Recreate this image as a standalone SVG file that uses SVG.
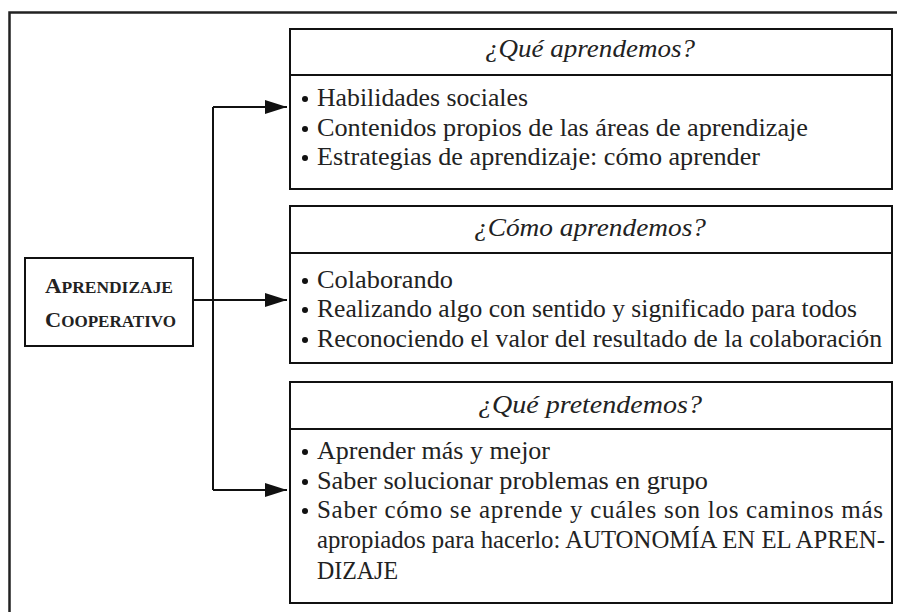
<svg xmlns="http://www.w3.org/2000/svg" width="897" height="612" viewBox="0 0 897 612">
<style>
.box{fill:#fff;stroke:#111;stroke-width:2}
.ln{fill:none;stroke:#111;stroke-width:2}
.hd{font-family:'Liberation Serif','Times New Roman',Times,serif;font-style:italic;font-size:25px;fill:#222;text-anchor:middle}
.tx{font-family:'Liberation Serif','Times New Roman',Times,serif;font-size:25px;fill:#222}
.sc{font-family:'Liberation Serif','Times New Roman',Times,serif;font-weight:bold;fill:#222}
.bul{fill:#111}
</style>
<defs>
<marker id="arr" markerWidth="22" markerHeight="14" refX="22" refY="7" orient="auto" markerUnits="userSpaceOnUse">
<path d="M0,0 L22,7 L0,14 Z" fill="#111"/>
</marker>
</defs>
<rect width="897" height="612" fill="#fff"/>
<path d="M9.5,612 V12.5 H897" fill="none" stroke="#222" stroke-width="2.5"/>

<g id="center">
<rect class="box" x="25" y="258" width="168" height="88"/>
<text class="sc" x="45" y="293" textLength="128" lengthAdjust="spacingAndGlyphs"><tspan font-size="21">A</tspan><tspan font-size="16">PRENDIZAJE</tspan></text>
<text class="sc" x="45" y="327" textLength="131" lengthAdjust="spacingAndGlyphs"><tspan font-size="21">C</tspan><tspan font-size="16">OOPERATIVO</tspan></text>
</g>

<g id="connectors">
<path class="ln" d="M213,107 V490"/>
<path class="ln" d="M213,107 H287" marker-end="url(#arr)"/>
<path class="ln" d="M193,300 H287" marker-end="url(#arr)"/>
<path class="ln" d="M213,490 H287" marker-end="url(#arr)"/>
</g>

<g id="que-aprendemos">
<rect class="box" x="290" y="29" width="602" height="160"/>
<line class="ln" x1="290" y1="75" x2="892" y2="75"/>
<text class="hd" x="590" y="57" textLength="210" lengthAdjust="spacingAndGlyphs">¿Qué aprendemos?</text>
<circle class="bul" cx="305" cy="99" r="3"/>
<text class="tx" x="317" y="106" textLength="211" lengthAdjust="spacingAndGlyphs">Habilidades sociales</text>
<circle class="bul" cx="305" cy="129" r="3"/>
<text class="tx" x="317" y="136" textLength="491" lengthAdjust="spacingAndGlyphs">Contenidos propios de las áreas de aprendizaje</text>
<circle class="bul" cx="305" cy="158" r="3"/>
<text class="tx" x="317" y="165" textLength="443" lengthAdjust="spacingAndGlyphs">Estrategias de aprendizaje: cómo aprender</text>
</g>

<g id="como-aprendemos">
<rect class="box" x="290" y="206" width="602" height="157"/>
<line class="ln" x1="290" y1="253" x2="892" y2="253"/>
<text class="hd" x="590" y="236" textLength="232" lengthAdjust="spacingAndGlyphs">¿Cómo aprendemos?</text>
<circle class="bul" cx="305" cy="281" r="3"/>
<text class="tx" x="317" y="288" textLength="136" lengthAdjust="spacingAndGlyphs">Colaborando</text>
<circle class="bul" cx="305" cy="310" r="3"/>
<text class="tx" x="317" y="317" textLength="540" lengthAdjust="spacingAndGlyphs">Realizando algo con sentido y significado para todos</text>
<circle class="bul" cx="305" cy="340" r="3"/>
<text class="tx" x="317" y="347" textLength="565" lengthAdjust="spacingAndGlyphs">Reconociendo el valor del resultado de la colaboración</text>
</g>

<g id="que-pretendemos">
<rect class="box" x="290" y="382" width="602" height="221"/>
<line class="ln" x1="290" y1="429" x2="892" y2="429"/>
<text class="hd" x="590" y="413" textLength="224" lengthAdjust="spacingAndGlyphs">¿Qué pretendemos?</text>
<circle class="bul" cx="305" cy="452" r="3"/>
<text class="tx" x="317" y="459" textLength="233" lengthAdjust="spacingAndGlyphs">Aprender más y mejor</text>
<circle class="bul" cx="305" cy="482" r="3"/>
<text class="tx" x="317" y="489" textLength="391" lengthAdjust="spacingAndGlyphs">Saber solucionar problemas en grupo</text>
<circle class="bul" cx="305" cy="511" r="3"/>
<text class="tx" x="317" y="518" textLength="566" lengthAdjust="spacing">Saber cómo se aprende y cuáles son los caminos más</text>
<text class="tx" x="317" y="548" textLength="568" lengthAdjust="spacingAndGlyphs">apropiados para hacerlo: AUTONOMÍA EN EL APREN-</text>
<text class="tx" x="317" y="579" textLength="81" lengthAdjust="spacingAndGlyphs">DIZAJE</text>
</g>
</svg>
